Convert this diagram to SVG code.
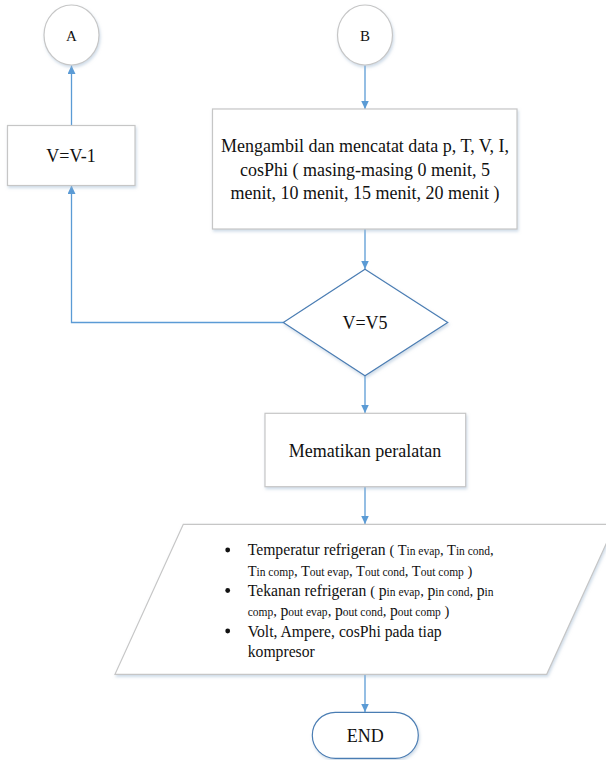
<svg xmlns="http://www.w3.org/2000/svg" width="606" height="760" viewBox="0 0 606 760">
<defs>
  <marker id="arr" markerUnits="userSpaceOnUse" markerWidth="9" markerHeight="8" refX="8.5" refY="4" orient="auto">
    <path d="M0,0 L8.5,4 L0,8 z" fill="#5B9BD5"/>
  </marker>
  <filter id="sh" x="-10%" y="-10%" width="125%" height="130%">
    <feDropShadow dx="1" dy="2" stdDeviation="1.5" flood-color="#9fb7d0" flood-opacity="0.5"/>
  </filter>
</defs>
<style>
  .box { fill: #ffffff; stroke: #c6c6c6; stroke-width: 1.2; }
  .blue { fill: #ffffff; stroke: #4a7db3; stroke-width: 1.2; }
  .t { font-family: "Liberation Serif", "Times New Roman", serif; fill: #111111; }
  .c18 { font-size: 18px; text-anchor: middle; }
  .c15 { font-size: 15px; text-anchor: middle; }
  .li { font-size: 15.7px; }
  .m { font-size: 14.5px; }
  .s { font-size: 11.5px; }
  .conn { fill: none; stroke: #5B9BD5; stroke-width: 1.3; }
</style>
<rect width="606" height="760" fill="#ffffff"/>

<g id="connectors">
  <path class="conn" d="M71.5,125.5 L71.5,65.5" marker-end="url(#arr)"/>
  <path class="conn" d="M365,65.5 L365,109" marker-end="url(#arr)"/>
  <path class="conn" d="M365,229 L365,269" marker-end="url(#arr)"/>
  <path class="conn" d="M283.5,322.5 L71.5,322.5 L71.5,185.5" marker-end="url(#arr)"/>
  <path class="conn" d="M365,376 L365,413" marker-end="url(#arr)"/>
  <path class="conn" d="M365,487 L365,524" marker-end="url(#arr)"/>
  <path class="conn" d="M365,674.5 L365,712" marker-end="url(#arr)"/>
</g>

<g id="nodeA">
  <ellipse class="box" cx="71.5" cy="35" rx="27.5" ry="30" filter="url(#sh)"/>
  <text class="t c15" x="71.5" y="41">A</text>
</g>

<g id="nodeB">
  <ellipse class="box" cx="365" cy="35" rx="27.5" ry="30" filter="url(#sh)"/>
  <text class="t c15" x="365" y="41">B</text>
</g>

<g id="nodeDecrement">
  <rect class="box" x="7.5" y="125.5" width="127.5" height="60" filter="url(#sh)"/>
  <text class="t c18" x="71" y="162.3">V=V-1</text>
</g>

<g id="nodeRecord">
  <rect class="box" x="212.5" y="109" width="304.5" height="120" filter="url(#sh)"/>
  <text class="t c18" x="365" y="151.7">Mengambil dan mencatat data p, T, V, I,</text>
  <text class="t c18" x="365" y="175.5">cosPhi ( masing-masing 0 menit, 5</text>
  <text class="t c18" x="365" y="199.3">menit, 10 menit, 15 menit, 20 menit )</text>
</g>

<g id="nodeDecision">
  <polygon class="blue" points="365,269.3 447.7,322.5 365,375.7 283.3,322.5" filter="url(#sh)"/>
  <text class="t c18" x="365" y="329.3">V=V5</text>
</g>

<g id="nodeShutdown">
  <rect class="box" x="265" y="413.3" width="200.7" height="73.4" filter="url(#sh)"/>
  <text class="t c18" x="365" y="456.7">Mematikan peralatan</text>
</g>

<g id="nodeOutput">
  <polygon class="box" points="183.3,524.3 615,524.3 546.7,674.3 115,674.3" filter="url(#sh)"/>
  <circle cx="227.7" cy="550" r="2.4" fill="#111"/>
  <circle cx="227.7" cy="590.5" r="2.4" fill="#111"/>
  <circle cx="227.7" cy="631" r="2.4" fill="#111"/>
  <text class="t" x="247.7" y="555"><tspan class="li">Temperatur refrigeran </tspan><tspan class="m">( T</tspan><tspan class="s">in evap</tspan><tspan class="m">, T</tspan><tspan class="s">in cond</tspan><tspan class="m">,</tspan></text>
  <text class="t" x="247.7" y="575.7"><tspan class="m">T</tspan><tspan class="s">in comp</tspan><tspan class="m">, T</tspan><tspan class="s">out evap</tspan><tspan class="m">, T</tspan><tspan class="s">out cond</tspan><tspan class="m">, T</tspan><tspan class="s">out comp</tspan><tspan class="m"> )</tspan></text>
  <text class="t" x="247.7" y="595.8"><tspan class="li">Tekanan refrigeran </tspan><tspan class="m">( </tspan><tspan class="li">p</tspan><tspan class="s">in evap</tspan><tspan class="m">, </tspan><tspan class="li">p</tspan><tspan class="s">in cond</tspan><tspan class="m">, </tspan><tspan class="li">p</tspan><tspan class="s">in</tspan></text>
  <text class="t" x="247.7" y="616.2"><tspan class="s">comp</tspan><tspan class="m">, </tspan><tspan class="li">p</tspan><tspan class="s">out evap</tspan><tspan class="m">, </tspan><tspan class="li">p</tspan><tspan class="s">out cond</tspan><tspan class="m">, </tspan><tspan class="li">p</tspan><tspan class="s">out comp</tspan><tspan class="m"> )</tspan></text>
  <text class="t li" x="247.7" y="636.7">Volt, Ampere, cosPhi pada tiap</text>
  <text class="t li" x="247.7" y="656.8">kompresor</text>
</g>

<g id="nodeEnd">
  <rect class="blue" x="312.3" y="712.3" width="106" height="46" rx="23" ry="23" filter="url(#sh)"/>
  <text class="t c18" x="365.3" y="741.8">END</text>
</g>
</svg>
